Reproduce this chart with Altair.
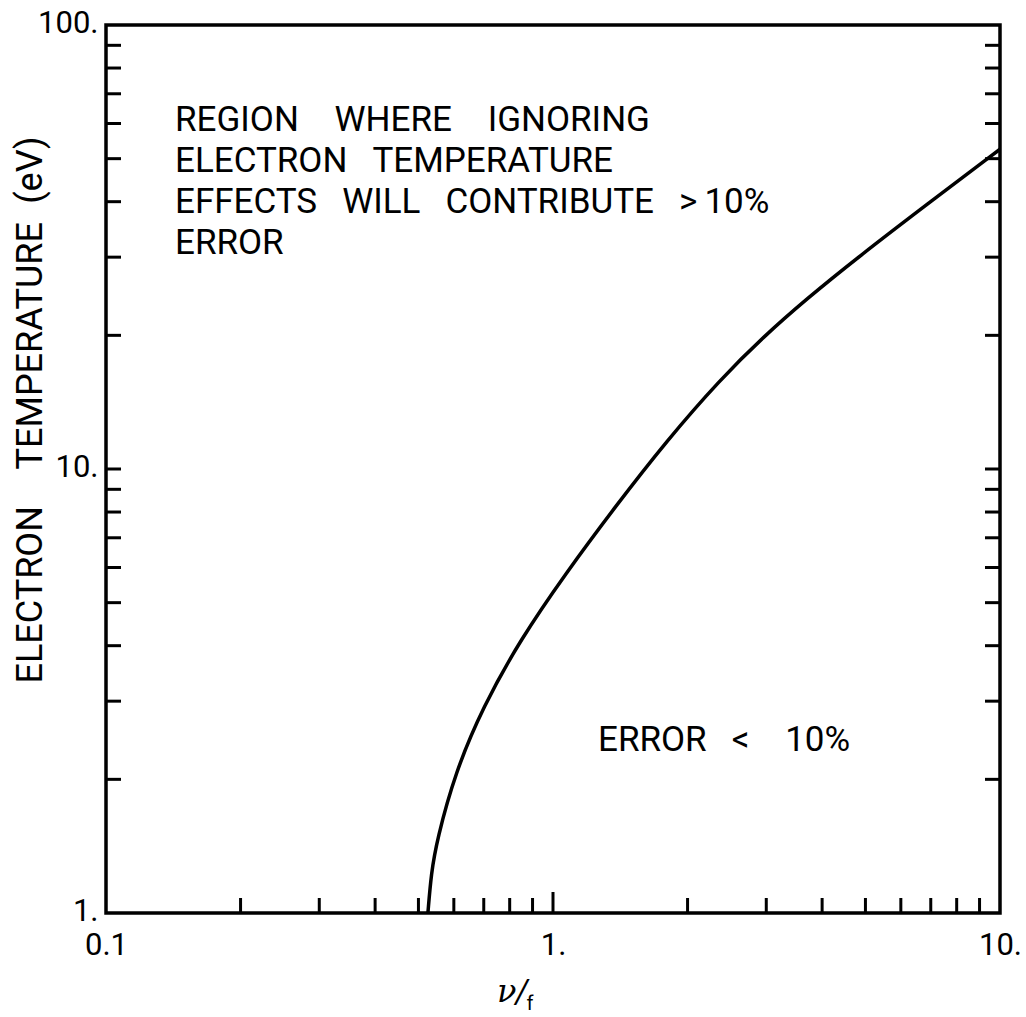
import altair as alt
import pandas as pd

# Boundary curve: ratio nu/f against electron temperature (eV)
nu_over_f = [0.525, 0.534, 0.550, 0.604, 0.697, 0.844, 1.069, 1.376, 1.799,
             2.364, 2.981, 3.663, 4.812, 7.081, 10.0]
te_ev = [1.0, 1.23, 1.46, 2.07, 2.91, 4.12, 5.83, 8.21, 11.6,
         15.9, 20.0, 24.0, 30.0, 40.4, 52.5]

# Inward tick positions
x_minor_ticks = [0.2, 0.3, 0.4, 0.5, 0.6, 0.7, 0.8, 0.9, 2, 3, 4, 5, 6, 7, 8, 9]
x_major_ticks = [1.0]
y_ticks = [2, 3, 4, 5, 6, 7, 8, 9, 10, 20, 30, 40, 50, 60, 70, 80, 90]

# Labelled values
x_label_values = [0.1, 1, 10]
y_label_values = [1, 10, 100]

region_lines = [
    "REGION\u2003WHERE\u2003IGNORING",
    "ELECTRON\u2002\u2009TEMPERATURE",
    "EFFECTS\u2002\u2009WILL\u2002\u2009CONTRIBUTE\u2002\u2009>\u200910%",
    "ERROR",
]
low_error_text = "ERROR\u2002\u2009<\u200310%"
y_title = "ELECTRON\u2003TEMPERATURE\u2002(eV)"

W, H = 894, 888
FONT = "Roboto"
FS = 35

xscale = alt.Scale(type="log", domain=[0.1, 10], nice=False)
yscale = alt.Scale(type="log", domain=[1, 100], nice=False)

x_axis = alt.Axis(
    values=x_label_values, title=None, domain=False, ticks=False, grid=False,
    labelExpr="datum.value < 1 ? '0.1' : format(datum.value, 'd') + '.'",
    labelFont=FONT, labelFontSize=31, labelColor="black",
    labelPadding=17, labelFlush=False,
)
y_axis = alt.Axis(
    values=y_label_values, title=None, domain=False, ticks=False, grid=False,
    labelExpr="format(datum.value, 'd') + '.'",
    labelFont=FONT, labelFontSize=31, labelColor="black",
    labelPadding=8, labelFlush=False, labelOffset=-2,
)

curve_df = pd.DataFrame({"x": nu_over_f, "y": te_ev})

curve = alt.Chart(curve_df).mark_line(
    color="black", strokeWidth=3.5, interpolate="basis"
).encode(
    x=alt.X("x:Q", scale=xscale, axis=x_axis),
    y=alt.Y("y:Q", scale=yscale, axis=y_axis),
)

xt_df = pd.DataFrame({"x": x_minor_ticks})
xt_major_df = pd.DataFrame({"x": x_major_ticks})
yt_df = pd.DataFrame({"y": y_ticks})

x_ticks = alt.Chart(xt_df).mark_rule(color="black", strokeWidth=3).encode(
    x=alt.X("x:Q", scale=xscale, axis=x_axis),
    y=alt.value(H), y2=alt.value(H - 15),
)
x_ticks_major = alt.Chart(xt_major_df).mark_rule(color="black", strokeWidth=3).encode(
    x=alt.X("x:Q", scale=xscale, axis=x_axis),
    y=alt.value(H), y2=alt.value(H - 21),
)
y_ticks_left = alt.Chart(yt_df).mark_rule(color="black", strokeWidth=3).encode(
    y=alt.Y("y:Q", scale=yscale, axis=y_axis),
    x=alt.value(0), x2=alt.value(15),
)
y_ticks_right = alt.Chart(yt_df).mark_rule(color="black", strokeWidth=3).encode(
    y=alt.Y("y:Q", scale=yscale, axis=y_axis),
    x=alt.value(W), x2=alt.value(W - 15),
)

one_row = pd.DataFrame({"t": [0]})

region_text = alt.Chart(one_row).mark_text(
    font=FONT, fontSize=FS, align="left", baseline="middle", lineHeight=41, color="black"
).encode(
    x=alt.value(69), y=alt.value(95), text=alt.value(region_lines)
)

error_text = alt.Chart(one_row).mark_text(
    font=FONT, fontSize=FS, align="left", baseline="middle", color="black"
).encode(
    x=alt.value(492), y=alt.value(715), text=alt.value(low_error_text)
)

y_title_text = alt.Chart(one_row).mark_text(
    font=FONT, fontSize=36, align="center", baseline="middle", angle=270, color="black"
).encode(
    x=alt.value(-75), y=alt.value(385), text=alt.value(y_title)
)

x_title_main = alt.Chart(one_row).mark_text(
    font="DejaVu Serif", fontStyle="italic", fontSize=32, align="center",
    baseline="middle", color="black"
).encode(
    x=alt.value(406), y=alt.value(967), text=alt.value("\u03bd/")
)

x_title_sub = alt.Chart(one_row).mark_text(
    font=FONT, fontSize=20, align="center", baseline="middle", color="black"
).encode(
    x=alt.value(424), y=alt.value(979), text=alt.value("f")
)

chart = alt.layer(
    curve, x_ticks, x_ticks_major, y_ticks_left, y_ticks_right,
    region_text, error_text, y_title_text, x_title_main, x_title_sub,
).properties(
    width=W, height=H,
    autosize=alt.AutoSizeParams(type="none"),
    padding={"left": 106, "top": 25, "right": 26, "bottom": 104},
    background="white",
).configure_view(
    stroke="black", strokeWidth=3.5,
)

chart.save("out.html", embed_options={"renderer": "svg", "actions": False})
